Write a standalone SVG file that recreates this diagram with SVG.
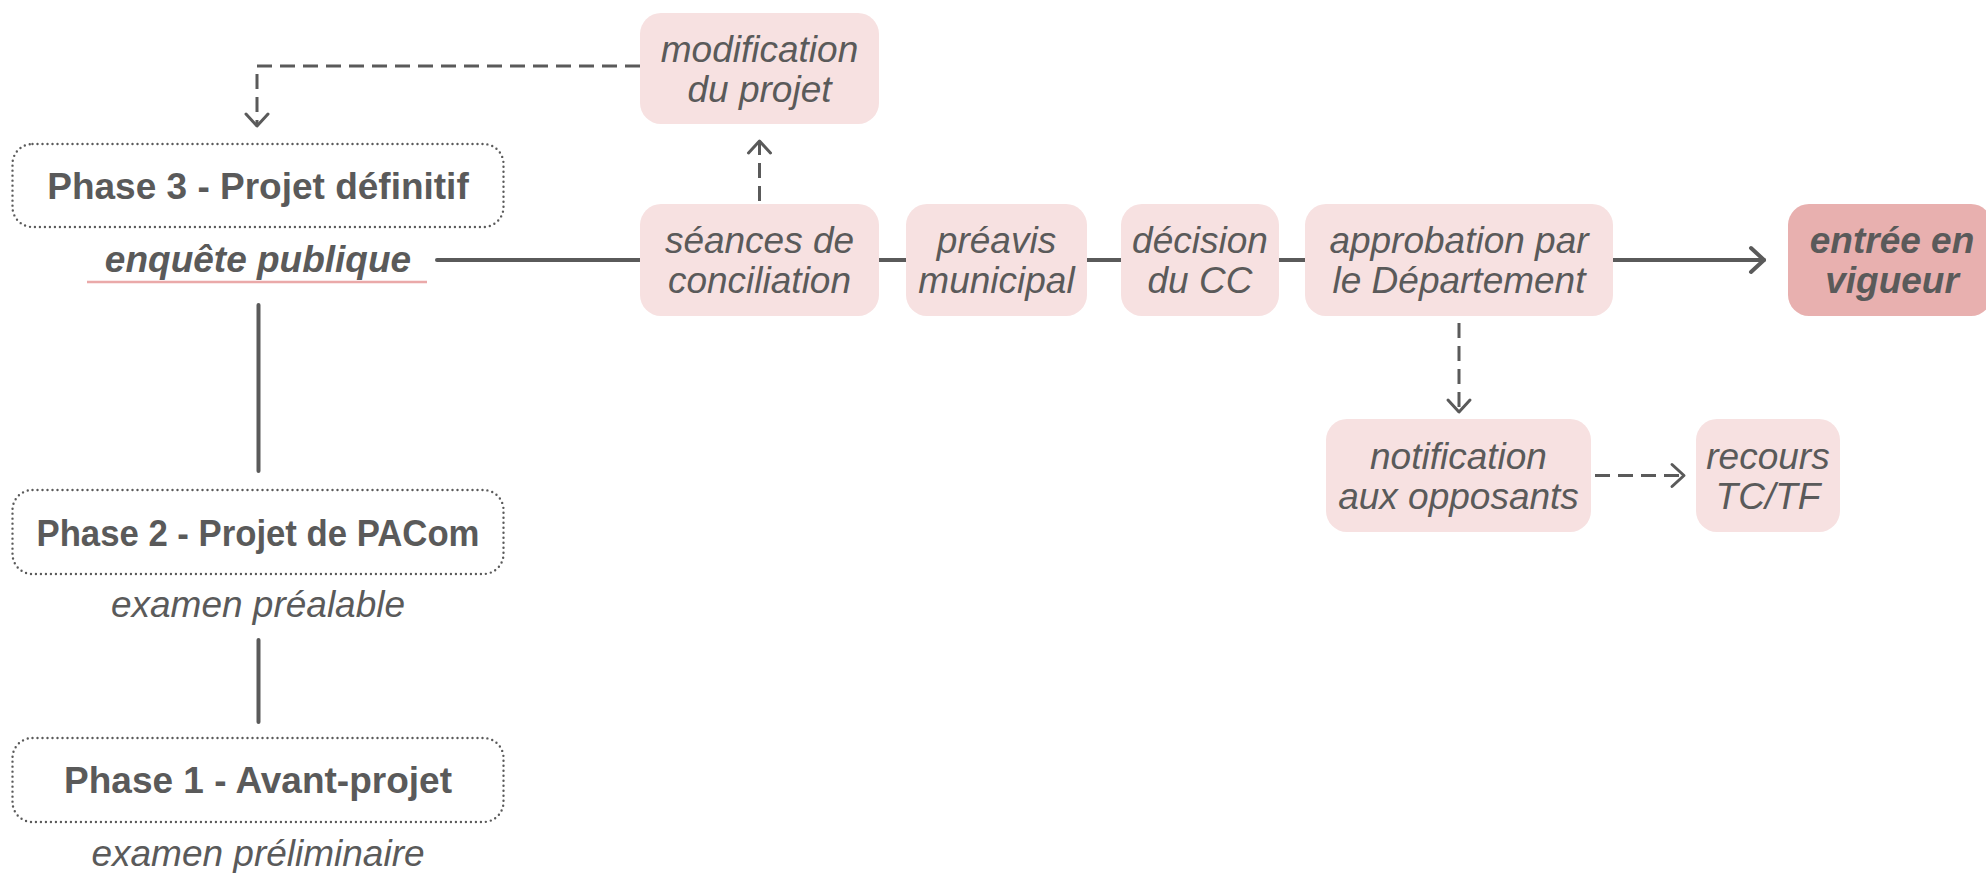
<svg xmlns="http://www.w3.org/2000/svg" width="1986" height="873" viewBox="0 0 1986 873">
<style>
  .bg { fill: #ffffff; }
  .phase { fill: #ffffff; stroke: #5a5a5a; stroke-width: 2.4; stroke-dasharray: 0 5; stroke-linecap: round; }
  .box { fill: #f7e1e1; }
  .box-dark { fill: #e8b0af; }
  .t { font-family: "Liberation Sans", Arial, sans-serif; font-size: 37px; fill: #5a5a5a; text-anchor: middle; }
  .b { font-weight: bold; }
  .i { font-style: italic; }
  .line { fill: none; stroke: #5a5a5a; stroke-width: 4; stroke-linecap: round; }
  .dash { fill: none; stroke: #5a5a5a; stroke-width: 3; stroke-dasharray: 15 8; }
  .ul { stroke: #eaa9a9; stroke-width: 2.5; }
</style>
<defs>
  <marker id="arrowBig" markerUnits="userSpaceOnUse" viewBox="-16 -16 20 32" refX="0" refY="0" markerWidth="20" markerHeight="32" orient="auto">
    <path d="M-13,-12 L0,0 L-13,12" fill="none" stroke="#5a5a5a" stroke-width="4" stroke-linecap="round" stroke-linejoin="round"/>
  </marker>
  <marker id="arrowSmall" markerUnits="userSpaceOnUse" viewBox="-15 -15 19 30" refX="0" refY="0" markerWidth="19" markerHeight="30" orient="auto">
    <path d="M-12,-11 L0,0 L-12,11" fill="none" stroke="#5a5a5a" stroke-width="3" stroke-linecap="round" stroke-linejoin="round"/>
  </marker>
</defs>
<rect class="bg" x="0" y="0" width="1986" height="873"/>

<g id="connectors">
  <line class="line" x1="437" y1="260" x2="640" y2="260"/>
  <line class="line" x1="879" y1="260" x2="906" y2="260"/>
  <line class="line" x1="1087" y1="260" x2="1121" y2="260"/>
  <line class="line" x1="1279" y1="260" x2="1305" y2="260"/>
  <line class="line" x1="1613" y1="260" x2="1764" y2="260" marker-end="url(#arrowBig)"/>
  <line class="line" x1="258.5" y1="305" x2="258.5" y2="471"/>
  <line class="line" x1="258.5" y1="640" x2="258.5" y2="722"/>
  <path class="dash" d="M640,66 H257 V126" marker-end="url(#arrowSmall)"/>
  <path class="dash" d="M759.5,201 V141" marker-end="url(#arrowSmall)"/>
  <path class="dash" d="M1459,323 V412" marker-end="url(#arrowSmall)"/>
  <path class="dash" d="M1595,475.5 H1684" marker-end="url(#arrowSmall)"/>
</g>

<g id="phase3">
  <rect class="phase" x="12.5" y="144" width="491" height="83" rx="20"/>
  <text class="t b" x="258" y="199">Phase 3 - Projet définitif</text>
  <text class="t b i" x="258" y="272">enquête publique</text>
  <line class="ul" x1="87" y1="282" x2="427" y2="282"/>
</g>

<g id="phase2">
  <rect class="phase" x="12.5" y="490" width="491" height="84" rx="20"/>
  <text class="t b" x="258" y="545.5" textLength="443" lengthAdjust="spacingAndGlyphs">Phase 2 - Projet de PACom</text>
  <text class="t i" x="258" y="617">examen préalable</text>
</g>

<g id="phase1">
  <rect class="phase" x="12.5" y="738" width="491" height="84" rx="20"/>
  <text class="t b" x="258" y="793">Phase 1 - Avant-projet</text>
  <text class="t i" x="258" y="866">examen préliminaire</text>
</g>

<g id="modification">
  <rect class="box" x="640" y="13" width="239" height="111" rx="21"/>
  <text class="t i" x="759.5" y="62">modification</text>
  <text class="t i" x="759.5" y="102">du projet</text>
</g>

<g id="seances">
  <rect class="box" x="640" y="204" width="239" height="112" rx="21"/>
  <text class="t i" x="759.5" y="253">séances de</text>
  <text class="t i" x="759.5" y="293">conciliation</text>
</g>

<g id="preavis">
  <rect class="box" x="906" y="204" width="181" height="112" rx="21"/>
  <text class="t i" x="996.5" y="253">préavis</text>
  <text class="t i" x="996.5" y="293">municipal</text>
</g>

<g id="decision">
  <rect class="box" x="1121" y="204" width="158" height="112" rx="21"/>
  <text class="t i" x="1200" y="253">décision</text>
  <text class="t i" x="1200" y="293">du CC</text>
</g>

<g id="approbation">
  <rect class="box" x="1305" y="204" width="308" height="112" rx="21"/>
  <text class="t i" x="1459" y="253">approbation par</text>
  <text class="t i" x="1459" y="293">le Département</text>
</g>

<g id="entree">
  <rect class="box-dark" x="1788" y="204" width="204" height="112" rx="21"/>
  <text class="t b i" x="1892" y="253">entrée en</text>
  <text class="t b i" x="1892" y="293">vigueur</text>
</g>

<g id="notification">
  <rect class="box" x="1326" y="419" width="265" height="113" rx="21"/>
  <text class="t i" x="1458.5" y="469">notification</text>
  <text class="t i" x="1458.5" y="509">aux opposants</text>
</g>

<g id="recours">
  <rect class="box" x="1696" y="419" width="144" height="113" rx="21"/>
  <text class="t i" x="1768" y="469">recours</text>
  <text class="t i" x="1768" y="509">TC/TF</text>
</g>
</svg>
